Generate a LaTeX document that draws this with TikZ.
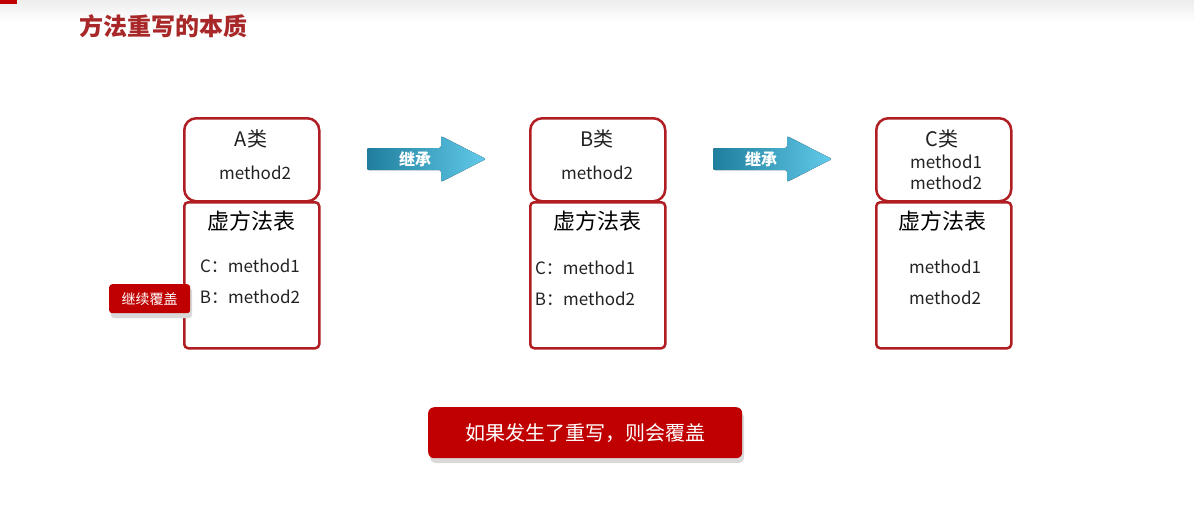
\documentclass[tikz,border=0pt]{standalone}
\usepackage{fontspec}
\setmainfont{Noto Sans CJK SC}
\definecolor{dred}{HTML}{B01E23}
\definecolor{bred}{HTML}{C00000}
\definecolor{tred}{HTML}{A8282A}
\definecolor{arrdark}{HTML}{1F7E9C}
\definecolor{arrlight}{HTML}{62CAEA}
\definecolor{txt}{HTML}{222222}
\tikzset{
  topbox/.style={draw=dred, line width=2.5pt, rounded corners=12pt, minimum width=135pt, minimum height=83pt, anchor=north west, inner sep=0pt},
  tablebox/.style={draw=dred, line width=2.5pt, rounded corners=4pt, minimum width=135pt, minimum height=146pt, anchor=north west, inner sep=0pt},
  clsname/.style={font=\fontsize{20}{24}\selectfont, text=txt, inner sep=0pt},
  meth/.style={font=\fontsize{17}{20}\selectfont, text=txt, inner sep=0pt},
  vtitle/.style={font=\fontsize{22}{25}\selectfont, text=black, inner sep=0pt},
  redbtn/.style={fill=bred, text=white, inner sep=0pt, anchor=north west},
  arrowfill/.style={left color=arrdark, right color=arrlight, draw=none},
  arrtext/.style={font=\fontsize{16}{18}\selectfont\bfseries, text=white, inner sep=0pt}
}
\begin{document}
\begin{tikzpicture}[x=1pt,y=-1pt]
\useasboundingbox (0,0) rectangle (1194,523);
\fill[white] (0,0) rectangle (1194,523);
% header band
\shade[top color=black!7, bottom color=white] (0,0) rectangle (1194,22);
\fill[bred] (0,0) rectangle (17,4);
\node[font=\fontsize{24}{27}\selectfont\bfseries, text=tred, anchor=west, inner sep=0pt] (title) at (79,26) {方法重写的本质};

% ---- A ----
\node[topbox] (Atop) at (183,117) {};
\node[tablebox] (Atab) at (183,201) {};
\node[clsname] (Aname) at (251,139) {A类};
\node[meth] (Am2) at (255,173) {method2};
\node[vtitle] (Avt) at (251,221) {虚方法表};
\node[meth] (Ac) at (250,266) {C：method1};
\node[meth] (Ab) at (250,297) {B：method2};

% ---- B ----
\node[topbox] (Btop) at (529,117) {};
\node[tablebox] (Btab) at (529,201) {};
\node[clsname] (Bname) at (597,139) {B类};
\node[meth] (Bm2) at (597,173) {method2};
\node[vtitle] (Bvt) at (597,221) {虚方法表};
\node[meth] (Bc) at (585,268) {C：method1};
\node[meth] (Bb) at (585,299) {B：method2};

% ---- C ----
\node[topbox] (Ctop) at (875,117) {};
\node[tablebox] (Ctab) at (875,201) {};
\node[clsname] (Cname) at (942,139) {C类};
\node[meth] (Cm1) at (946,162) {method1};
\node[meth] (Cm2) at (946,183) {method2};
\node[vtitle] (Cvt) at (942,221) {虚方法表};
\node[meth] (Cc) at (945,267) {method1};
\node[meth] (Cb) at (945,298) {method2};

% ---- arrows ----
\fill[arrowfill, rounded corners=2pt] (367,148) -- (441,148) -- (441,136) -- (486,159) -- (441,182) -- (441,170) -- (367,170) -- cycle;
\node[arrtext] (inh1) at (415,159) {继承};
\fill[arrowfill, rounded corners=2pt] (713,148) -- (787,148) -- (787,136) -- (832,159) -- (787,182) -- (787,170) -- (713,170) -- cycle;
\node[arrtext] (inh2) at (761,159) {继承};

% ---- label 继续覆盖 ----
\fill[black!15, rounded corners=3pt] (111,288) rectangle (192,318);
\node[redbtn, rounded corners=3pt, minimum width=81pt, minimum height=29pt] (cover) at (109,284) {};
\node[font=\fontsize{14}{16}\selectfont, text=white, inner sep=0pt] (covertxt) at (cover.center) {继续覆盖};

% ---- bottom button ----
\fill[black!15, rounded corners=6pt] (430,412) rectangle (744,463);
\node[redbtn, rounded corners=6pt, minimum width=314pt, minimum height=51pt] (note) at (428,407) {};
\node[font=\fontsize{20}{24}\selectfont, text=white, inner sep=0pt] (notetxt) at (note.center) {如果发生了重写，则会覆盖};
\end{tikzpicture}
\end{document}
